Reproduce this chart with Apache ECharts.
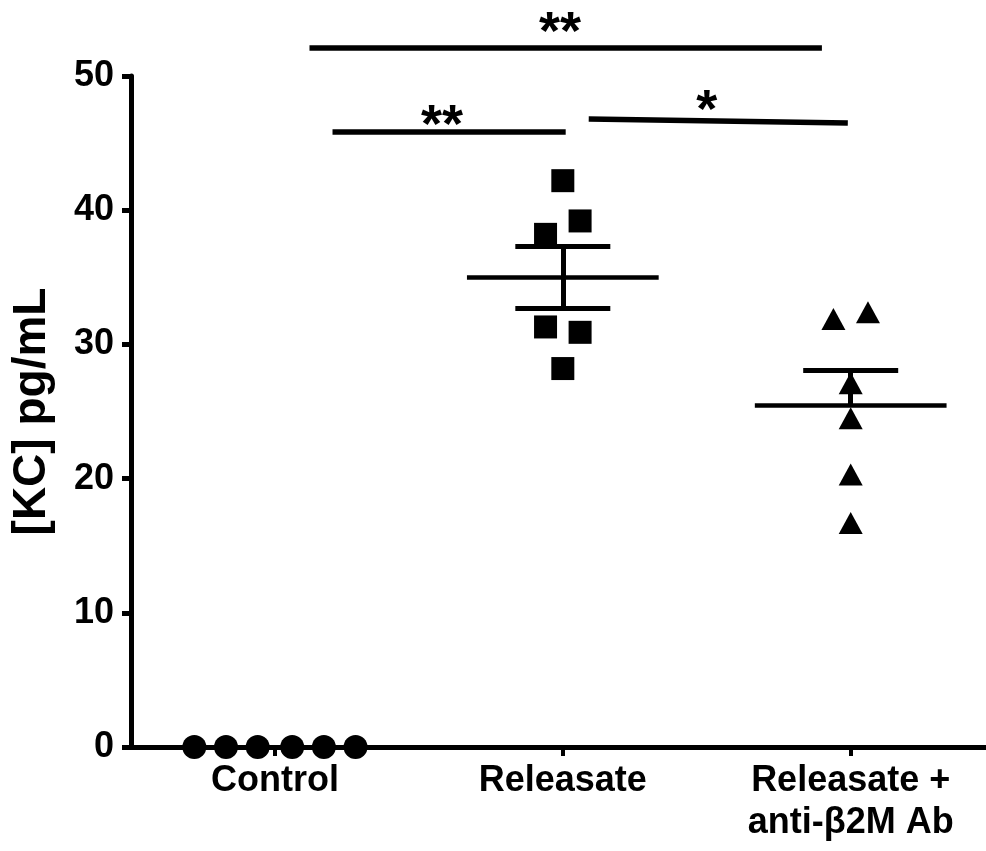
<!DOCTYPE html>
<html>
<head>
<meta charset="utf-8">
<style>
  html, body { margin: 0; padding: 0; background: #fff; }
  #chart { width: 986px; height: 851px; }
</style>
<script src="https://cdn.jsdelivr.net/npm/echarts@6/dist/echarts.min.js"></script>
</head>
<body>
<div id="chart"></div>
<script>
// ---- data ----
const categories = ['Control', 'Releasate', 'Releasate +\nanti-β2M Ab'];
const yTicks = [0, 10, 20, 30, 40, 50];

// horizontal jitter of each point, in category units (category index + offset)
const controlX = [-0.28, -0.17, -0.06, 0.06, 0.17, 0.28];
const controlY = [0, 0, 0, 0, 0, 0];

const releasateX = [0.0, 0.06, -0.06, -0.06, 0.06, 0.0];
const releasateY = [42.2, 39.2, 38.2, 31.3, 30.9, 28.2];

const antiX = [-0.06, 0.06, 0.0, 0.0, 0.0, 0.0];
const antiY = [31.9, 32.4, 27.1, 24.5, 20.3, 16.7];

const groupMeans = [0, 35.0, 25.5];
const groupSem = [0, 2.3, 2.6];
const semBelow = [false, true, false]; // the third group shows only the upper bar

// significance brackets: [fromX, fromY, toX, toY, label, labelX, labelY]
const sigBars = [
  [0.12, 52.1, 1.9, 52.1, '**', 0.99, 53.1],
  [0.20, 45.85, 1.01, 45.85, '**', 0.58, 46.2],
  [1.09, 46.8, 1.99, 46.5, '*', 1.5, 47.3]
];

// ---- build series ----
const FONT = 'Liberation Sans, Arial, Helvetica, sans-serif';
const BLACK = '#000000';
const meanHalf = 0.333;
const capHalf = 0.165;

function pts(xs, ys, idx) { return xs.map((x, i) => [idx + x, ys[i]]); }

const meanLines = [];
const errLines = [];
groupMeans.forEach((m, i) => {
  if (i === 0) return;
  meanLines.push({ coords: [[i - meanHalf, m], [i + meanHalf, m]] });
  const hi = m + groupSem[i];
  const lo = semBelow[i] ? m - groupSem[i] : m;
  errLines.push({ coords: [[i, lo], [i, hi]] });
  errLines.push({ coords: [[i - capHalf, hi], [i + capHalf, hi]] });
  if (semBelow[i]) errLines.push({ coords: [[i - capHalf, lo], [i + capHalf, lo]] });
});

const sigLineData = sigBars.map(b => ({ coords: [[b[0], b[1]], [b[2], b[3]]] }));
const sigTextData = sigBars.map(b => ({ value: [b[5], b[6]], label: { formatter: b[4] } }));

const markerBase = { type: 'scatter', clip: false, itemStyle: { color: BLACK, opacity: 1 }, z: 5 };

const option = {
  animation: false,
  backgroundColor: '#ffffff',
  grid: { left: 131, right: 0, top: 76, bottom: 104, containLabel: false },
  xAxis: {
    type: 'value',
    min: -0.5,
    max: 2.47,
    splitLine: { show: false },
    axisLine: { show: true, lineStyle: { color: BLACK, width: 5 } },
    axisTick: { show: true, customValues: [0, 1, 2], length: 9, lineStyle: { color: BLACK, width: 4 } },
    axisLabel: {
      customValues: [0, 1, 2],
      formatter: v => categories[Math.round(v)],
      color: BLACK, fontFamily: FONT, fontWeight: 'bold', fontSize: 36, lineHeight: 42, margin: 13
    }
  },
  yAxis: {
    type: 'value',
    min: 0, max: 50, interval: 10,
    name: '[KC] pg/mL',
    nameLocation: 'middle',
    nameGap: 76,
    nameTextStyle: { color: BLACK, fontFamily: FONT, fontWeight: 'bold', fontSize: 46 },
    splitLine: { show: false },
    axisLine: { show: true, onZero: false, lineStyle: { color: BLACK, width: 5 } },
    axisTick: { show: true, length: 9, lineStyle: { color: BLACK, width: 5 } },
    axisLabel: {
      color: BLACK, fontFamily: FONT, fontWeight: 'bold', fontSize: 36, margin: 17,
      formatter: v => (yTicks.indexOf(v) >= 0 ? String(v) : '')
    }
  },
  series: [
    Object.assign({}, markerBase, { name: 'Control', symbol: 'circle', symbolSize: 24, data: pts(controlX, controlY, 0) }),
    Object.assign({}, markerBase, { name: 'Releasate', symbol: 'rect', symbolSize: 23, data: pts(releasateX, releasateY, 1) }),
    Object.assign({}, markerBase, { name: 'Releasate + anti-β2M Ab', symbol: 'triangle', symbolSize: [24, 22], data: pts(antiX, antiY, 2) }),
    {
      type: 'lines', coordinateSystem: 'cartesian2d', clip: false, z: 4,
      lineStyle: { color: BLACK, width: 4.5, opacity: 1, cap: 'butt' },
      data: meanLines
    },
    {
      type: 'lines', coordinateSystem: 'cartesian2d', clip: false, z: 4,
      lineStyle: { color: BLACK, width: 5, opacity: 1, cap: 'butt' },
      data: errLines
    },
    {
      type: 'lines', coordinateSystem: 'cartesian2d', clip: false, z: 4,
      lineStyle: { color: BLACK, width: 5.5, opacity: 1, cap: 'butt' },
      data: sigLineData
    },
    {
      type: 'scatter', clip: false, symbolSize: 0, z: 6,
      itemStyle: { color: BLACK, opacity: 1 },
      label: {
        show: true, position: 'inside', color: BLACK, opacity: 1,
        fontFamily: FONT, fontWeight: 'bold', fontSize: 54
      },
      data: sigTextData
    }
  ]
};

const chart = echarts.init(document.getElementById('chart'), null, { renderer: 'canvas' });
chart.setOption(option);
</script>
</body>
</html>
